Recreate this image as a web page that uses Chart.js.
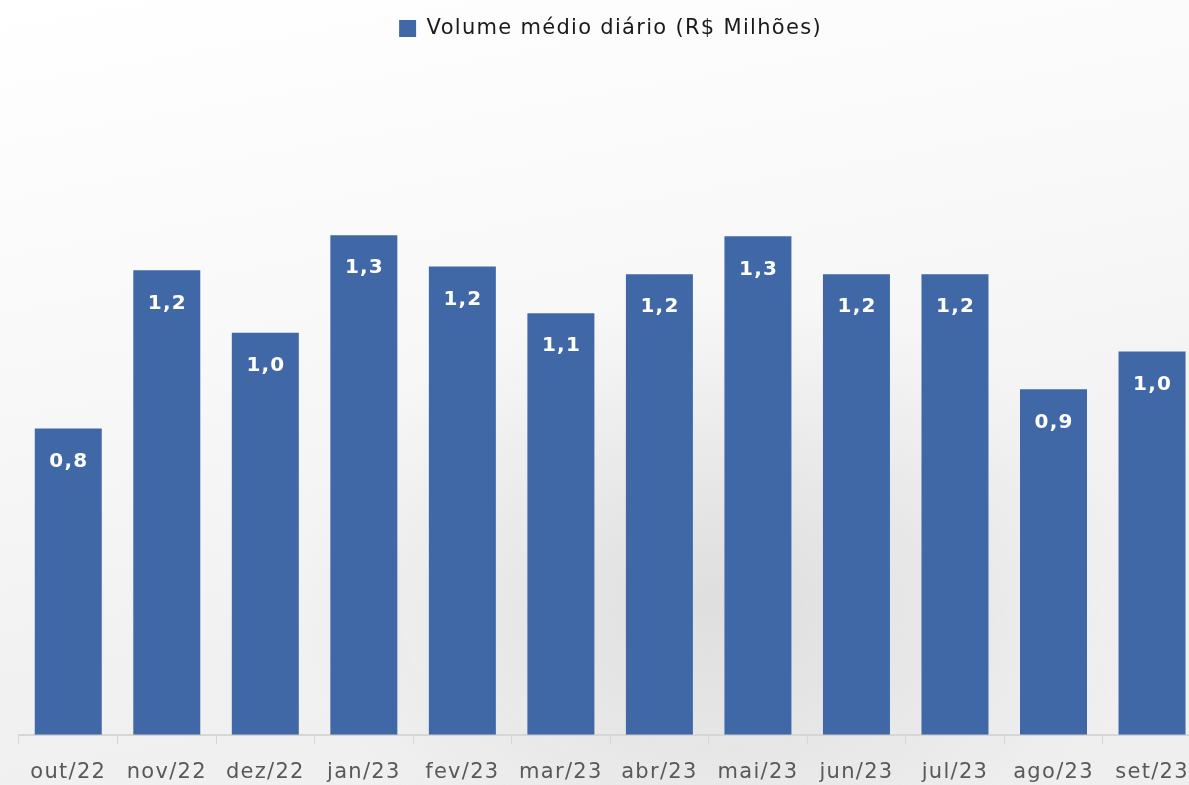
<!DOCTYPE html>
<html>
<head>
<meta charset="utf-8">
<script src="https://cdn.jsdelivr.net/npm/chart.js@4.4.1/dist/chart.umd.min.js"></script>
<style>
html,body{margin:0;padding:0;overflow:hidden;width:1189px;height:785px;}
body{background:
  radial-gradient(ellipse 420px 300px at 720px 600px, rgba(200,200,200,0.45), rgba(200,200,200,0) 100%),
  linear-gradient(170deg,#ffffff 0%,#f8f8f8 40%,#f1f1f1 70%,#efefef 100%);}
#wrap{position:absolute;left:0;top:0;width:1205px;height:801px;}
</style>
</head>
<body>
<div id="wrap"><canvas id="c" width="1205" height="801"></canvas></div>
<script>
const categories = ["out/22","nov/22","dez/22","jan/23","fev/23","mar/23","abr/23","mai/23","jun/23","jul/23","ago/23","set/23"];
const volumeValues = [0.785,1.19,1.03,1.28,1.20,1.08,1.18,1.277,1.18,1.18,0.885,0.982];
const seriesLabel = "Volume médio diário (R$ Milhões)";

const FONT = "'DejaVu Sans', sans-serif";

const spacing = {
  id: 'spacing',
  beforeInit(chart) { chart.ctx.letterSpacing = '1.3px'; },
  beforeLayout(chart) { chart.ctx.letterSpacing = '1.3px'; },
  beforeDraw(chart) { chart.ctx.letterSpacing = '1.3px'; }
};

const valueLabels = {
  id: 'valueLabels',
  afterDatasetsDraw(chart) {
    const ctx = chart.ctx;
    const meta = chart.getDatasetMeta(0);
    ctx.save();
    ctx.letterSpacing = '1.2px';
    ctx.fillStyle = '#ffffff';
    ctx.font = "bold 20px " + FONT;
    ctx.textAlign = 'center';
    ctx.textBaseline = 'middle';
    meta.data.forEach((bar, i) => {
      const v = chart.data.datasets[0].data[i];
      const txt = v.toFixed(1).replace('.', ',');
      ctx.fillText(txt, bar.x + 0.6, bar.y + 33);
    });
    ctx.restore();
  }
};

new Chart(document.getElementById('c'), {
  type: 'bar',
  data: {
    labels: categories,
    datasets: [{
      label: seriesLabel,
      data: volumeValues,
      backgroundColor: '#4168a6',
      borderWidth: 0,
      categoryPercentage: 1,
      barPercentage: 0.68
    }]
  },
  options: {
    responsive: false,
    animation: false,
    layout: { padding: { left: 19, right: 3, top: 10, bottom: 0 } },
    plugins: {
      legend: {
        display: true,
        position: 'top',
        labels: {
          color: '#1a1a1a',
          font: { family: FONT, size: 21 },
          boxWidth: 17,
          boxHeight: 17,
          padding: 8
        }
      },
      tooltip: { enabled: false }
    },
    scales: {
      x: {
        grid: { display: true, drawOnChartArea: false, drawTicks: true, tickLength: 9, color: '#d6d6d6', offset: true },
        border: { display: true, color: '#d6d6d6', width: 2 },
        ticks: { color: '#595959', font: { family: FONT, size: 21 }, padding: 16, maxRotation: 0, autoSkip: false }
      },
      y: {
        display: false,
        min: 0,
        max: 1.757
      }
    }
  },
  plugins: [spacing, valueLabels]
});
</script>
</body>
</html>
